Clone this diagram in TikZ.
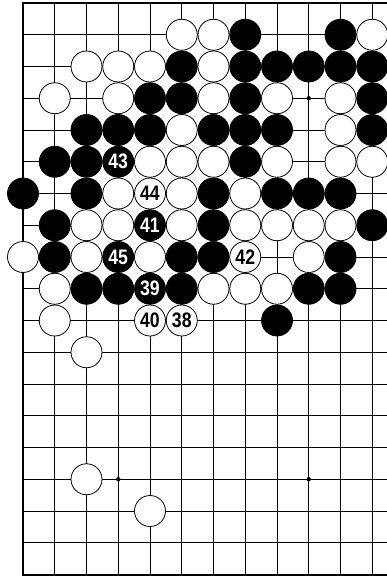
\documentclass[tikz,border=0pt]{standalone}
\usepackage{fontspec}
\setmainfont{Liberation Sans}
\newcommand{\stnum}[1]{\scalebox{0.84}[1]{#1}}
\begin{document}
\begin{tikzpicture}[x=31.75pt,y=-31.75pt,
  stone/.style={circle,draw=black,line width=0.8pt,minimum size=31pt,inner sep=0pt,
    font=\fontsize{21}{21}\selectfont\bfseries},
  bst/.style={stone,fill=black,text=white},
  wst/.style={stone,fill=white,text=black},
  gridline/.style={line width=0.9pt,black},
  boardedge/.style={line width=2pt,black},
  hoshi/.style={circle,fill=black,inner sep=0pt,minimum size=4.5pt}]
\useasboundingbox (-23pt,3pt) rectangle (364pt,-574pt);
% grid
\foreach \r in {1,...,17} \draw[gridline] (0,\r) -- (11.7,\r);
\foreach \c in {1,...,11} \draw[gridline] (\c,0) -- (\c,18);
\draw[boardedge] (11.7,0) -- (0,0) -- (0,18) -- (11.7,18);
% star points
\foreach \c/\r in {3/3,9/3,3/9,9/9,3/15,9/15}
  \node[hoshi] (h-\c-\r) at (\c,\r) {};
% black stones
\foreach \c/\r in {7/1,10/1,
  5/2,7/2,8/2,9/2,10/2,11/2,
  4/3,5/3,7/3,11/3,
  2/4,3/4,4/4,6/4,7/4,8/4,11/4,
  1/5,2/5,7/5,
  0/6,2/6,6/6,8/6,9/6,10/6,
  1/7,6/7,11/7,
  1/8,5/8,6/8,10/8,
  2/9,3/9,5/9,9/9,10/9,
  8/10}
  \node[bst] (b-\c-\r) at (\c,\r) {};
% white stones
\foreach \c/\r in {5/1,6/1,11/1,
  2/2,3/2,4/2,6/2,
  1/3,3/3,6/3,8/3,10/3,
  5/4,10/4,
  4/5,5/5,6/5,8/5,10/5,11/5,
  3/6,5/6,7/6,
  2/7,3/7,5/7,7/7,8/7,9/7,10/7,
  0/8,2/8,4/8,9/8,
  1/9,6/9,7/9,8/9,
  1/10,
  2/11,
  2/15,4/16}
  \node[wst] (w-\c-\r) at (\c,\r) {};
% numbered stones
\foreach \c/\r/\n in {3/5/43,4/7/41,3/8/45,4/9/39}
  \node[bst] (m\n) at (\c,\r) {\stnum{\n}};
\foreach \c/\r/\n in {4/6/44,7/8/42,4/10/40,5/10/38}
  \node[wst] (m\n) at (\c,\r) {\stnum{\n}};
\end{tikzpicture}
\end{document}
